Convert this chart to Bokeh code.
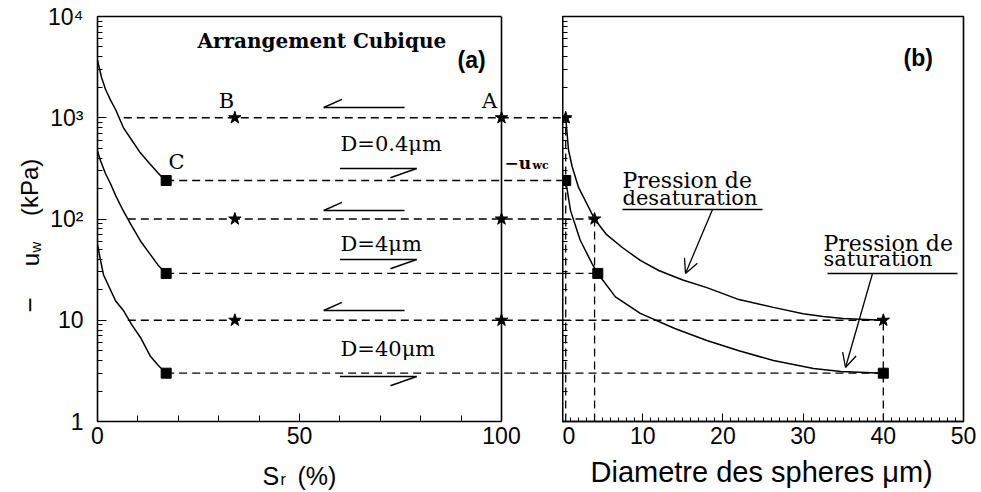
import math
from bokeh.plotting import figure
from bokeh.models import (Range1d, LogTicker, FixedTicker, LinearAxis, Span, Label,
                          Arrow, OpenHead)
from bokeh.layouts import row, column
from bokeh.embed import file_html
from bokeh.resources import INLINE

# ---------------- data : panel (a)  (Sr in %, -uw in kPa) ----------------
sr_curve_04 = [0, 1, 2, 3.2, 4.5, 6.4, 8.5, 10.6, 13, 15, 17]
uw_curve_04 = [3700, 2500, 1900, 1500, 1200, 800, 600, 450, 350, 285, 234]
sr_curve_4 = [0, 0.7, 2, 3.2, 4.5, 6.4, 8.5, 10.6, 13, 15, 17]
uw_curve_4 = [470, 380, 280, 224, 170, 120, 85, 61, 45, 35, 29]
sr_curve_40 = [0, 0.7, 1.5, 3.2, 4.5, 6.4, 8.5, 10.6, 13.1, 15, 17]
uw_curve_40 = [56, 40, 28, 20, 15.5, 12.5, 9, 6.8, 4.4, 3.6, 3.0]

diam_labels = ["D=0.4\u03bcm", "D=4\u03bcm", "D=40\u03bcm"]
uw_desat = [1000, 100, 10]        # desaturation pressures (stars)
uw_sat = [240, 29, 3.0]           # saturation pressures (squares)
sr_sat = 17                       # point C
sr_B = 34
sr_A = 100
sr_guide_start = [6.5, 7.5, 7.5]

# ---------------- data : panel (b)  (D in micrometres) ----------------
d_desat = [0.4, 4, 40]
d_sat = [0.4, 4.4, 40]
d_up = [0.4, 0.75, 1.2, 2.0, 4, 5.5, 7.5, 9.7, 12, 15, 18, 22, 26.3, 30, 32.5, 35, 40]
uw_up = [1000, 480, 330, 205, 100, 70, 52, 39, 31, 25, 21, 16, 13.4, 11.6, 10.9, 10.4, 10]
d_low = [0.4, 1.0, 2.2, 3.7, 4.4, 6.6, 9.7, 14, 18, 22, 26.3, 31.3, 34.7, 40]
uw_low = [240, 121, 62, 36, 29, 17, 11.7, 8.3, 6.3, 5.0, 4.0, 3.33, 3.12, 3.0]

# tick labels
y_tick_labels = {1: "1", 10: "10", 100: "10\u00b2", 1000: "10\u00b3", 10000: "10\u2074"}
xa_ticks = [0, 50, 100]
xa_minor = [10, 20, 30, 40, 60, 70, 80, 90]
xb_ticks = [0, 10, 20, 30, 40, 50]
xb_minor = list(range(0, 51))

# ---------------- layout constants (page px, origin at page top-left) ----------------
TOP = 16                # frame top
FH = 405                # frame height (16 .. 421)
BOT = 34                # bottom border for tick labels
ROW_H = TOP + FH + BOT  # 455
STRIP_H = 36            # bottom title strip (455 .. 491)
YT_W = 44               # y-title strip (0 .. 44)
FA_L = 97               # panel (a) frame left
K = 0                   # width taken by panel (b)'s unlabeled y axis
FA_W = 562 - FA_L - K   # panel (a) frame incl. gap (97 .. 562)
FB_W = 401              # panel (b) frame (562 .. 963)
RB = 14
TOTAL_W = YT_W + (FA_L - YT_W + FA_W) + (K + FB_W + RB)
PX_PER_SR = 4.04
XEND_A = FA_W / PX_PER_SR
LBL_DY = 7              # measured baseline drop of rendered labels
SANS = "Liberation Sans"
SERIF = "DejaVu Serif"
DASH = "8 5"


def yv(py):
    """page row -> kPa value (annotation placement)"""
    return 10 ** (4 - (py - TOP) / (FH / 4))


def xa(px):
    return (px - FA_L) / PX_PER_SR


def xb(px):
    return (px - 562) / (FB_W / 50)


def lab(p, x, y, text, font=SERIF, size="19px", style="normal", align="left",
        baseline="alphabetic", angle=0):
    p.add_layout(Label(x=x, y=y, text=text, text_font=font, text_font_size=size,
                       text_font_style=style, text_align=align, text_baseline=baseline,
                       text_color="black", angle=angle))


def lab_a(px, py, text, **kw):
    lab(pA, xa(px), yv(py - LBL_DY), text, **kw)


def lab_b(px, py, text, **kw):
    lab(pB, xb(px), yv(py - LBL_DY), text, **kw)


def strip(w, h):
    f = figure(width=w, height=h, x_range=Range1d(0, w), y_range=Range1d(0, h),
               output_backend="svg", toolbar_location=None, x_axis_location=None,
               y_axis_location=None, min_border_left=0, min_border_right=0,
               min_border_top=0, min_border_bottom=0, outline_line_color=None,
               background_fill_color="white", border_fill_color="white", title=None)
    f.grid.visible = False
    return f


def tick_style(ax, tin, mtin):
    ax.major_tick_in = tin
    ax.major_tick_out = 0
    ax.minor_tick_in = mtin
    ax.minor_tick_out = 0
    ax.axis_line_width = 1.6
    ax.major_label_text_font = SANS
    ax.major_label_text_font_size = "23px"
    ax.major_label_text_color = "black"


# ---------------- panel (a) ----------------
pA = figure(frame_width=FA_W, frame_height=FH, x_range=Range1d(0, XEND_A),
            y_range=Range1d(1, 1e4), y_axis_type="log", output_backend="svg",
            toolbar_location=None, min_border_left=FA_L - YT_W, min_border_right=0,
            min_border_top=TOP, min_border_bottom=BOT, outline_line_color=None,
            background_fill_color="white", border_fill_color="white")
pA.grid.visible = False

ya = pA.yaxis[0]
ya.ticker = LogTicker(num_minor_ticks=10)
ya.major_label_overrides = y_tick_labels
tick_style(ya, 9, 5)
ya.major_label_standoff = 14

xax = pA.xaxis[0]
xax.ticker = FixedTicker(ticks=xa_ticks, minor_ticks=xa_minor)
xax.bounds = (0, 100)
tick_style(xax, 8, 6)
xax.major_label_standoff = 5

top_a = LinearAxis(bounds=(0, 100), ticker=FixedTicker(ticks=[]),
                   major_tick_in=0, major_tick_out=0, minor_tick_in=0, minor_tick_out=0,
                   major_label_standoff=0, axis_line_width=1.6)
pA.add_layout(top_a, "above")
pA.add_layout(Span(location=100, dimension="height", line_color="black", line_width=1.6))

for sr, uw in [(sr_curve_04, uw_curve_04), (sr_curve_4, uw_curve_4), (sr_curve_40, uw_curve_40)]:
    pA.line(sr, uw, line_color="black", line_width=1.5)

pA.segment(x0=sr_guide_start, y0=uw_desat, x1=[XEND_A] * 3, y1=uw_desat,
           line_color="black", line_width=1.3, line_dash=DASH)
pA.segment(x0=[sr_sat] * 3, y0=uw_sat, x1=[XEND_A] * 3, y1=uw_sat,
           line_color="black", line_width=1.3, line_dash=DASH)

pA.scatter([sr_B] * 3 + [sr_A] * 3, uw_desat * 2, marker="star", size=13,
           fill_color="black", line_color="black")
pA.scatter([sr_sat] * 3, uw_sat, marker="square", size=10,
           fill_color="black", line_color="black")

# harpoon arrows (drying <-, wetting ->)
left_y = [yv(107), yv(210), yv(310)]
right_y = [yv(168), yv(259), yv(376)]
pA.segment(x0=[56] * 3, y0=left_y, x1=[76] * 3, y1=left_y, line_color="black", line_width=1.4)
pA.segment(x0=[56] * 3, y0=left_y, x1=[60.5] * 3, y1=[v * 1.2 for v in left_y],
           line_color="black", line_width=1.4)
pA.segment(x0=[60] * 3, y0=right_y, x1=[79] * 3, y1=right_y, line_color="black", line_width=1.4)
pA.segment(x0=[79] * 3, y0=right_y, x1=[72.5] * 3, y1=[v * 0.81 for v in right_y],
           line_color="black", line_width=1.4)

lab_a(197, 47, "Arrangement Cubique", style="bold", size="20px")
lab_a(457, 66, "(a)", font=SANS, style="bold", size="23px")
lab_a(226, 107, "B", size="21px", align="center")
lab_a(489, 107, "A", size="21px", align="center")
lab_a(176, 168, "C", size="21px", align="center")
for t, py in zip(diam_labels, [150, 250, 355]):
    lab_a(340, py, t, size="21px")
lab_a(504, 169, "\u2212u", style="bold", size="17px")
lab_a(532, 172, "wc", style="bold", size="11px")

# ---------------- y title strip (page x 0..44) : centred, rotated pieces ----------------
yt = strip(YT_W, ROW_H)
for txt, cx, cy, sz in [("\u2212", 29, 324, "26px"), ("u", 30, 273, "24px"),
                        ("w", 35, 259, "15px"), ("(kPa)", 29, 192, "24px")]:
    lab(yt, cx, ROW_H - cy, txt, font=SANS, size=sz, align="center", baseline="middle",
        angle=math.pi / 2)

# ---------------- panel (b) ----------------
pB = figure(frame_width=FB_W, frame_height=FH, x_range=Range1d(0, 50), y_range=pA.y_range,
            y_axis_type="log", output_backend="svg", toolbar_location=None,
            min_border_left=0, min_border_right=RB, min_border_top=TOP, min_border_bottom=BOT,
            outline_line_color="black", outline_line_width=1.6,
            background_fill_color="white", border_fill_color="white")
pB.grid.visible = False
yb = pB.yaxis[0]
yb.ticker = LogTicker(num_minor_ticks=10)
yb.major_label_overrides = {1: "", 10: "", 100: "", 1000: "", 10000: ""}
tick_style(yb, 9, 5)
yb.major_label_standoff = 0

xbx = pB.xaxis[0]
xbx.ticker = FixedTicker(ticks=xb_ticks, minor_ticks=xb_minor)
tick_style(xbx, 8, 4)
xbx.major_label_standoff = 5

pB.line(d_up, uw_up, line_color="black", line_width=1.5)
pB.line(d_low, uw_low, line_color="black", line_width=1.5)
pB.segment(x0=[0] * 3, y0=uw_desat, x1=d_desat, y1=uw_desat,
           line_color="black", line_width=1.3, line_dash=DASH)
pB.segment(x0=[0] * 3, y0=uw_sat, x1=d_sat, y1=uw_sat,
           line_color="black", line_width=1.3, line_dash=DASH)
pB.segment(x0=d_desat, y0=[1] * 3, x1=d_desat, y1=uw_desat,
           line_color="black", line_width=1.3, line_dash=DASH)
pB.scatter(d_desat, uw_desat, marker="star", size=13, fill_color="black", line_color="black")
pB.scatter(d_sat, uw_sat, marker="square", size=10, fill_color="black", line_color="black")

lab_b(903, 64, "(b)", font=SANS, style="bold", size="23px")
lab_b(622, 187, "Pression de", size="22px")
lab_b(622, 204, "desaturation", size="21px")
pB.segment(x0=[xb(622)], y0=[yv(209)], x1=[xb(762)], y1=[yv(209)], line_color="black", line_width=1.3)
pB.add_layout(Arrow(end=OpenHead(size=14, line_width=1.3, line_color="black"),
                    x_start=xb(712), y_start=yv(209), x_end=xb(685), y_end=yv(273),
                    line_color="black", line_width=1.3))
lab_b(823, 250, "Pression de", size="22px")
lab_b(823, 265, "saturation", size="21px")
pB.segment(x0=[xb(827)], y0=[yv(273)], x1=[xb(957)], y1=[yv(273)], line_color="black", line_width=1.3)
pB.add_layout(Arrow(end=OpenHead(size=14, line_width=1.3, line_color="black"),
                    x_start=xb(872), y_start=yv(273), x_end=xb(845), y_end=yv(367),
                    line_color="black", line_width=1.3))

# ---------------- bottom title strip (page y 455..491) ----------------
bt = strip(TOTAL_W, STRIP_H)
for txt, px, py, sz, fnt in [("S", 262, 482, "25px", SANS), ("r", 280, 486, "16px", SANS),
                             ("(%)", 297, 482, "25px", SANS),
                             ("Diametre des spheres \u03bcm)", 590, 478, "29px", SANS)]:
    lab(bt, px, ROW_H + STRIP_H - (py - LBL_DY), txt, font=fnt, size=sz)

layout = column(row(yt, pA, pB), bt)
open("out.html", "w").write(file_html(layout, INLINE))
